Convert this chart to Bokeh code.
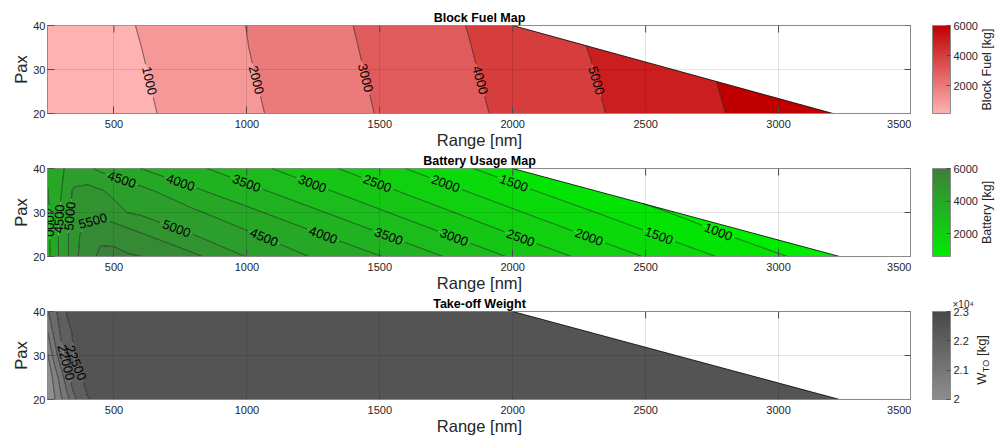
import numpy as np
import contourpy
from bokeh.plotting import figure
from bokeh.layouts import column, row
from bokeh.models import LinearColorMapper, ColorBar, FixedTicker, Label, Range1d
from bokeh.embed import file_html
from bokeh.resources import INLINE
from bokeh.core.properties import value

# ---------------------------------------------------------------- data
pax = [20, 25, 30, 35, 40]
# range columns shared by every pax row, then a tail up to the range limit
range_cols = [250, 275, 300, 325, 350, 400, 450, 500, 550, 600, 800, 1000, 1250, 1500]
tail_frac = [1/6, 2/6, 3/6, 4/6, 5/6, 1.0]
fuel_max_range = [3205, 2903.75, 2602.5, 2301.25, 2000]
max_range = [3230, 2922.5, 2615, 2307.5, 2000]

block_fuel = [
    [140, 191, 242, 293, 344, 446, 548, 649, 751, 853, 1327, 1837, 2449, 3051, 3709, 4361, 5008, 5637, 6265, 6894],
    [160, 213, 265, 318, 371, 476, 581, 686, 792, 897, 1381, 1886, 2496, 3097, 3640, 4181, 4718, 5245, 5763, 6280],
    [180, 234, 289, 343, 398, 506, 615, 724, 833, 941, 1435, 1937, 2546, 3147, 3574, 4001, 4424, 4846, 5258, 5663],
    [200, 256, 313, 369, 426, 539, 652, 765, 878, 991, 1486, 1983, 2593, 3194, 3506, 3818, 4128, 4437, 4745, 5054],
    [220, 279, 338, 397, 456, 574, 691, 809, 927, 1046, 1529, 2012, 2636, 3244, 3439, 3634, 3829, 4025, 4225, 4424],
]
battery = [
    [3850, 4200, 4650, 4940, 5333, 5870, 6070, 6080, 6050, 6005, 5601, 4979, 4464, 4018, 3391, 2782, 2217, 1704, 1174, 624],
    [3900, 4250, 4650, 4940, 5310, 5750, 5930, 5900, 5720, 5550, 4995, 4582, 4066, 3534, 3032, 2543, 2093, 1666, 1221, 767],
    [3920, 4200, 4580, 4900, 5150, 5300, 5320, 5150, 4998, 4917, 4583, 4134, 3594, 3068, 2686, 2319, 1966, 1626, 1289, 952],
    [3980, 4200, 4450, 4850, 5060, 5150, 5030, 4897, 4765, 4632, 4076, 3650, 3130, 2621, 2355, 2095, 1838, 1583, 1325, 1066],
    [4100, 4250, 4420, 4580, 4700, 4580, 4400, 4266, 4133, 3998, 3605, 3192, 2684, 2189, 2025, 1862, 1699, 1537, 1374, 1211],
]
takeoff_weight = [
    [19990, 20415, 20900, 21370, 21891, 22479, 22600, 22680, 22730, 22760, 22820, 22855, 22875, 22885, 22900, 22900, 22900, 22900, 22900, 22900],
    [20050, 20659, 21227, 21861, 22350, 22600, 22660, 22710, 22745, 22770, 22830, 22865, 22880, 22890, 22900, 22900, 22900, 22900, 22900, 22900],
    [20440, 21194, 21818, 22157, 22520, 22620, 22680, 22730, 22760, 22785, 22840, 22870, 22885, 22895, 22900, 22900, 22900, 22900, 22900, 22900],
    [20950, 21596, 22048, 22345, 22570, 22650, 22720, 22760, 22785, 22805, 22850, 22875, 22890, 22900, 22900, 22900, 22900, 22900, 22900, 22900],
    [21450, 21830, 22250, 22560, 22620, 22700, 22750, 22780, 22800, 22820, 22860, 22880, 22890, 22900, 22900, 22900, 22900, 22900, 22900, 22900],
]

x_ticks = [500, 1000, 1500, 2000, 2500, 3000, 3500]
y_ticks = [20, 30, 40]

fuel_fill_levels = [0, 1000, 2000, 3000, 4000, 5000, 6000, 7000]
fuel_line_levels = [1000, 2000, 3000, 4000, 5000, 6000]
battery_fill_levels = [500, 1000, 1500, 2000, 2500, 3000, 3500, 4000, 4500, 5000, 5500, 6000, 6500]
battery_line_levels = [1000, 1500, 2000, 2500, 3000, 3500, 4000, 4500, 5000, 5500, 6000]
tow_fill_levels = [19500, 20000, 20500, 21000, 21500, 22000, 22500, 23000]
tow_line_levels = [20000, 20500, 21000, 21500, 22000, 22500]

# contour label positions (level, range, pax)
fuel_labels = [(1000, 637, 27.5), (2000, 1029, 27.5), (3000, 1443, 28.0),
               (4000, 1871, 27.5), (5000, 2319, 27.5)]
battery_labels = [(4500, 531, 37.8), (4000, 750, 36.7), (3500, 999, 36.7), (3000, 1246, 36.5),
                  (2500, 1490, 36.6), (2000, 1747, 36.6), (1500, 2004, 36.7),
                  (4000, 251, 27.8), (4500, 284, 28.6), (5000, 318, 29.3), (5500, 427, 26.5),
                  (5000, 734, 26.3), (4500, 1064, 24.4), (4000, 1287, 24.9), (3500, 1534, 24.6),
                  (3000, 1779, 24.4), (2500, 2030, 24.2), (2000, 2287, 24.4), (1500, 2550, 24.8),
                  (1000, 2772, 25.5)]
tow_labels = [(22500, 343, 27.9), (22000, 311, 28.3)]

fuel_cbar = dict(low=140, high=6010, ticks=[2000, 4000, 6000], c0=(255, 178, 178), c1=(192, 0, 0))
battery_cbar = dict(low=600, high=6010, ticks=[2000, 4000, 6000], c0=(0, 236, 0), c1=(60, 128, 60))
tow_cbar = dict(low=19990, high=23010, ticks=[20000, 21000, 22000, 23000], c0=(142, 142, 142), c1=(72, 72, 72))
tow_tick_text = {20000: "2", 21000: "2.1", 22000: "2.2", 23000: "2.3"}

# ---------------------------------------------------------------- helpers
FONT = "Liberation Sans"
FW, FH = 864, 88
LEFT = 47
SIDE_W = 1003 - LEFT - FW
X0, X1, Y0, Y1 = 250, 3500, 20, 40
SX = FW / (X1 - X0)
SY = FH / (Y1 - Y0)
LABEL_FS = 13
TICK_LEN = 7
AXIS_GRAY = "#8a8a8a"
TICK_GRAY = "#555555"
TEXT_GRAY = "#262626"


def build_grid(limits, values):
    X = np.array([list(range_cols) + [1500 + f * (m - 1500) for f in tail_frac] for m in limits], float)
    Y = np.array([[pp] * X.shape[1] for pp in pax], float)
    return X, Y, np.array(values, float)


def lerp(c0, c1, f):
    f = min(max(f, 0.0), 1.0)
    return "#%02x%02x%02x" % tuple(int(round(a + (b - a) * f)) for a, b in zip(c0, c1))


def contour_lines(X, Y, Z, levels, labels):
    cg = contourpy.contour_generator(X, Y, Z, line_type="Separate")
    xs, ys = [], []
    lx, ly, lt, la = [], [], [], []
    for lv in levels:
        paths = []
        for arr in cg.lines(lv):
            if len(arr) < 2:
                continue
            sx = (arr[:, 0] - X0) * SX
            sy = (arr[:, 1] - Y0) * SY
            s = np.concatenate([[0], np.cumsum(np.hypot(np.diff(sx), np.diff(sy)))])
            if s[-1] <= 0:
                continue
            n = max(int(s[-1] / 0.5) + 1, 2)
            ss = np.linspace(0, s[-1], n)
            paths.append([np.interp(ss, s, sx), np.interp(ss, s, sy), ss, np.ones(n, bool)])
        for (llv, gx, gy) in labels:
            if llv != lv or not paths:
                continue
            gsx, gsy = (gx - X0) * SX, (gy - Y0) * SY
            best = None
            for k, (rx, ry, ss, m) in enumerate(paths):
                d = (rx - gsx) ** 2 + (ry - gsy) ** 2
                i = int(np.argmin(d))
                if best is None or d[i] < best[0]:
                    best = (d[i], k, i)
            _, k, i = best
            rx, ry, ss, m = paths[k]
            sc = ss[i]
            i0 = max(int(np.searchsorted(ss, sc - 6)), 0)
            i1 = min(int(np.searchsorted(ss, sc + 6)), len(ss) - 1)
            ang = float(np.arctan2(ry[i1] - ry[i0], rx[i1] - rx[i0]))
            if ang > np.pi / 2:
                ang -= np.pi
            if ang < -np.pi / 2:
                ang += np.pi
            txt = str(lv)
            half = 0.5 * len(txt) * 0.556 * LABEL_FS + 2.5
            m[np.abs(ss - sc) < half] = False
            lx.append(rx[i] / SX + X0)
            ly.append(ry[i] / SY + Y0)
            lt.append(txt)
            la.append(ang)
        for rx, ry, ss, m in paths:
            edges = np.flatnonzero(np.diff(np.concatenate([[0], m.astype(int), [0]])))
            for a, b in zip(edges[::2], edges[1::2]):
                if b - a >= 2:
                    xs.append(list(rx[a:b] / SX + X0))
                    ys.append(list(ry[a:b] / SY + Y0))
    return xs, ys, lx, ly, lt, la


def make_main(title, values, limits, fill_levels, line_levels, labels, cbar, border_top, border_bottom):
    X, Y, Z = build_grid(limits, values)
    p = figure(frame_width=FW, frame_height=FH, x_range=Range1d(X0, X1), y_range=Range1d(Y0, Y1),
               min_border_left=LEFT, min_border_right=0, min_border_top=border_top,
               min_border_bottom=border_bottom, output_backend="svg", toolbar_location=None,
               background_fill_color="white", border_fill_color="white",
               outline_line_color=AXIS_GRAY, outline_line_width=1, title=title)
    p.title.align = "center"
    p.title.text_font = FONT
    p.title.text_font_size = "12.5px"
    p.title.text_font_style = "bold"
    p.title.text_color = "black"
    p.title.standoff = 1
    p.title.offset = 0

    lo, hi = cbar["low"], cbar["high"]
    band_colors = [lerp(cbar["c0"], cbar["c1"], (lv - lo) / (hi - lo)) for lv in fill_levels[:-1]]
    p.contour(X, Y, Z, fill_levels, fill_color=band_colors, line_color=None)

    xs, ys, lx, ly, lt, la = contour_lines(X, Y, Z, line_levels, labels)
    p.multi_line(xs, ys, line_color="black", line_width=0.7, line_alpha=0.85)
    p.line(limits, pax, line_color="black", line_width=0.8)
    p.text(x=lx, y=ly, text=lt, angle=la, text_font=value(FONT), text_font_size="13px",
           text_align="center", text_baseline="middle", text_color="black")

    # inward ticks on the top and right edges (box on)
    p.segment(x0=x_ticks, x1=x_ticks, y0=[Y1] * len(x_ticks), y1=[Y1 - TICK_LEN / SY] * len(x_ticks),
              line_color=TICK_GRAY, line_width=1)
    p.segment(x0=[X1] * len(y_ticks), x1=[X1 - TICK_LEN / SX] * len(y_ticks), y0=y_ticks, y1=y_ticks,
              line_color=TICK_GRAY, line_width=1)

    for ax in (p.xaxis[0], p.yaxis[0]):
        ax.major_tick_in = TICK_LEN
        ax.major_tick_out = 0
        ax.minor_tick_line_color = None
        ax.axis_line_color = AXIS_GRAY
        ax.major_tick_line_color = TICK_GRAY
        ax.major_label_text_font = FONT
        ax.major_label_text_font_size = "11px"
        ax.major_label_text_color = TEXT_GRAY
        ax.axis_label_text_font = FONT
        ax.axis_label_text_font_size = "16.5px"
        ax.axis_label_text_font_style = "normal"
        ax.axis_label_text_color = TEXT_GRAY
        ax.axis_label_standoff = 0
    p.xaxis[0].ticker = FixedTicker(ticks=x_ticks)
    p.yaxis[0].ticker = FixedTicker(ticks=y_ticks)
    p.xaxis[0].major_label_standoff = 6
    p.yaxis[0].major_label_standoff = 2
    p.xaxis[0].axis_label = "Range [nm]"
    p.yaxis[0].axis_label = "Pax"

    for g in (p.xgrid[0], p.ygrid[0]):
        g.level = "overlay"
        g.grid_line_color = "black"
        g.grid_line_alpha = 0.1
    p.xgrid[0].ticker = FixedTicker(ticks=x_ticks)
    p.ygrid[0].ticker = FixedTicker(ticks=y_ticks)
    return p


def make_side(cbar, border_top, border_bottom, tick_text=None, title=None):
    """Colour bar panel; its frame is aligned with the neighbouring plot frame (px units)."""
    s = figure(frame_width=SIDE_W, frame_height=FH, x_range=Range1d(0, SIDE_W), y_range=Range1d(0, FH),
               min_border_left=0, min_border_right=0, min_border_top=border_top,
               min_border_bottom=border_bottom,
               x_axis_location=None, y_axis_location=None, output_backend="svg", toolbar_location=None,
               outline_line_color=None, background_fill_color="white", border_fill_color="white",
               title=title)
    s.grid.visible = False
    if title:
        s.title.align = "left"
        s.title.offset = 41
        s.title.standoff = 4
        s.title.text_font = FONT
        s.title.text_font_size = "10px"
        s.title.text_font_style = "normal"
        s.title.text_color = TEXT_GRAY
    lo, hi = cbar["low"], cbar["high"]
    palette = [lerp(cbar["c0"], cbar["c1"], i / 255) for i in range(256)]
    mapper = LinearColorMapper(palette=palette, low=lo, high=hi)
    cb = ColorBar(color_mapper=mapper, ticker=FixedTicker(ticks=cbar["ticks"]), location=(21, 0),
                  width=18, height=FH, padding=0, margin=0, label_standoff=3,
                  major_label_text_font=FONT, major_label_text_font_size="11px",
                  major_label_text_color=TEXT_GRAY, major_tick_in=4, major_tick_out=0,
                  major_tick_line_color="#4d4d4d", minor_tick_line_color=None,
                  bar_line_color=AXIS_GRAY, border_line_color=None, background_fill_color=None)
    if tick_text:
        cb.major_label_overrides = tick_text
    s.add_layout(cb)
    return s


B1, B2, B3 = 38, 38, 37
T1, T2, T3 = 25, 17, 16

p1 = make_main("Block Fuel Map", block_fuel, fuel_max_range, fuel_fill_levels, fuel_line_levels,
               fuel_labels, fuel_cbar, T1, B1)
p2 = make_main("Battery Usage Map", battery, max_range, battery_fill_levels, battery_line_levels,
               battery_labels, battery_cbar, T2, B2)
p3 = make_main("Take-off Weight", takeoff_weight, max_range, tow_fill_levels, tow_line_levels,
               tow_labels, tow_cbar, T3, B3)

s1 = make_side(fuel_cbar, T1, B1)
s2 = make_side(battery_cbar, T2, B2)
s3 = make_side(tow_cbar, T3, B3, tick_text=tow_tick_text, title="×10⁴")

vt = dict(text_font=FONT, angle=np.pi / 2, text_color=TEXT_GRAY, text_align="center",
          text_baseline="middle")
s1.add_layout(Label(x=75, y=FH / 2, text="Block Fuel [kg]", text_font_size="12.5px", **vt))
s2.add_layout(Label(x=75, y=FH / 2, text="Battery [kg]", text_font_size="12.5px", **vt))
# W_TO [kg] with a subscript
s3.add_layout(Label(x=70, y=21, text="W", text_font_size="13px", **vt))
s3.add_layout(Label(x=74, y=33.5, text="TO", text_font_size="9px", **vt))
s3.add_layout(Label(x=70, y=54, text="[kg]", text_font_size="13px", **vt))

layout = column(row(p1, s1, spacing=0), row(p2, s2, spacing=0), row(p3, s3, spacing=0), spacing=0)
open("out.html", "w").write(file_html(layout, INLINE))
